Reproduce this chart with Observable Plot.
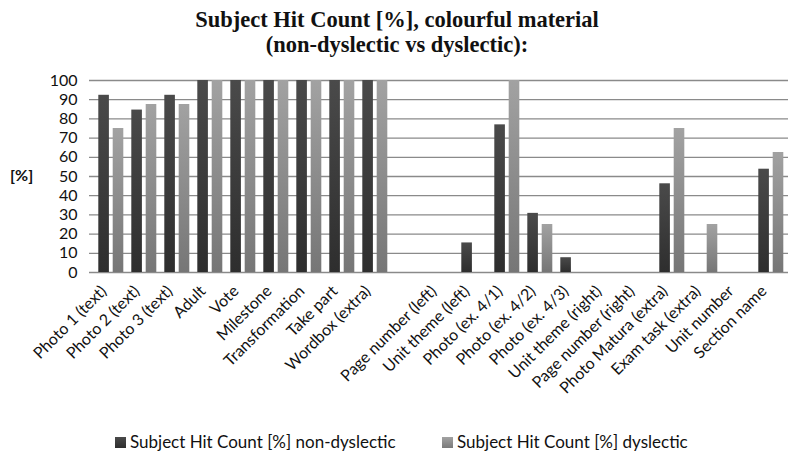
<!DOCTYPE html>
<html>
<head>
<meta charset="utf-8">
<script src="https://cdn.jsdelivr.net/npm/d3@7"></script>
<script src="https://cdn.jsdelivr.net/npm/@observablehq/plot@0.6"></script>
<style>
  html, body { margin: 0; padding: 0; background: #fff; }
  #wrap { position: relative; width: 788px; height: 455px; overflow: hidden; }
  #title {
    position: absolute; left: 3px; top: 7px; width: 788px; text-align: center;
    font-family: "Liberation Serif", "Times New Roman", serif; font-weight: bold;
    font-size: 22.5px; line-height: 25px; color: #111;
  }
  #chart { position: absolute; left: 0; top: 62px; }
  .legend { position: absolute; top: 431px; font-family: Lato, sans-serif; font-size: 17px; color: #111; white-space: nowrap; }
  .legend span.sw { display: inline-block; width: 11px; height: 11px; margin-right: 4px; vertical-align: 0px; }
  #ylab { position: absolute; left: 10px; top: 165px; font-family: Lato, sans-serif; font-weight: bold; font-size: 16px; color: #111; }
</style>
</head>
<body>
<div id="wrap">
  <div id="title">Subject Hit Count [%], colourful material<br>(non-dyslectic vs dyslectic):</div>
  <div id="ylab">[%]</div>
  <div id="chart"></div>
  <div class="legend" style="left:115px"><span class="sw" style="background:linear-gradient(#4a4a4a,#2e2e2e)"></span>Subject Hit Count [%] non-dyslectic</div>
  <div class="legend" style="left:442px"><span class="sw" style="background:linear-gradient(#a2a2a2,#7a7a7a)"></span>Subject Hit Count [%] dyslectic</div>
</div>
<script>
// Item categories along the x axis (one empty slot separates the two groups)
const categories = [
  "Photo 1 (text)", "Photo 2 (text)", "Photo 3 (text)", "Adult", "Vote",
  "Milestone", "Transformation", "Take part", "Wordbox (extra)", " ",
  "Page number (left)", "Unit theme (left)", "Photo (ex. 4/1)", "Photo (ex. 4/2)",
  "Photo (ex. 4/3)", "Unit theme (right)", "Page number (right)",
  "Photo Matura (extra)", "Exam task (extra)", "Unit number", "Section name"
];
// Hit counts in percent
const nonDyslectic = [92.3, 84.6, 92.3, 100, 100, 100, 100, 100, 100, null,
  0, 15.4, 76.9, 30.8, 7.7, 0, 0, 46.2, 0, 0, 53.8];
const dyslectic = [75, 87.5, 87.5, 100, 100, 100, 100, 100, 100, null,
  0, 0, 100, 25, 0, 0, 0, 75, 25, 0, 62.5];
const yTicks = [0, 10, 20, 30, 40, 50, 60, 70, 80, 90, 100];

const rows = (values) => categories
  .map((c, i) => ({category: c, value: values[i]}))
  .filter(d => d.value != null && d.value > 0);

const font = "Lato, sans-serif";

const chart = Plot.plot({
  width: 788,
  height: 360,
  marginLeft: 89,
  marginRight: 0,
  marginTop: 18,
  marginBottom: 150,
  style: {fontFamily: font, fontSize: "16px", color: "#111", background: "transparent", overflow: "visible"},
  x: {domain: categories, range: [89, 791], padding: 0, axis: null},
  y: {domain: [0, 100], axis: null},
  marks: [
    Plot.ruleY(yTicks, {y: d => d, stroke: "#8a8a8a", strokeWidth: 1.3}),
    Plot.barY(rows(nonDyslectic), {
      x: "category", y: "value", fill: "url(#gradDark)",
      insetLeft: 4.3, insetRight: 18.1
    }),
    Plot.barY(rows(dyslectic), {
      x: "category", y: "value", fill: "url(#gradLight)",
      insetLeft: 18.7, insetRight: 3.7
    }),
    Plot.axisY({ticks: yTicks, tickSize: 0, tickPadding: 12, fontSize: 16, label: null, tickFormat: d => String(d)}),
    Plot.axisX({
      tickRotate: -45, tickSize: 0, tickPadding: 8, fontSize: 16, label: null,
      anchor: "bottom", dx: -7, dy: 8
    })
  ]
});

// Vertical shading of the bars
const ns = "http://www.w3.org/2000/svg";
const defs = document.createElementNS(ns, "defs");
defs.innerHTML = `
  <linearGradient id="gradDark" x1="0" y1="0" x2="0" y2="1">
    <stop offset="0" stop-color="#4a4a4a"/>
    <stop offset="1" stop-color="#2e2e2e"/>
  </linearGradient>
  <linearGradient id="gradLight" x1="0" y1="0" x2="0" y2="1">
    <stop offset="0" stop-color="#a2a2a2"/>
    <stop offset="1" stop-color="#767676"/>
  </linearGradient>`;
chart.insertBefore(defs, chart.firstChild);

document.getElementById("chart").appendChild(chart);
</script>
</body>
</html>
